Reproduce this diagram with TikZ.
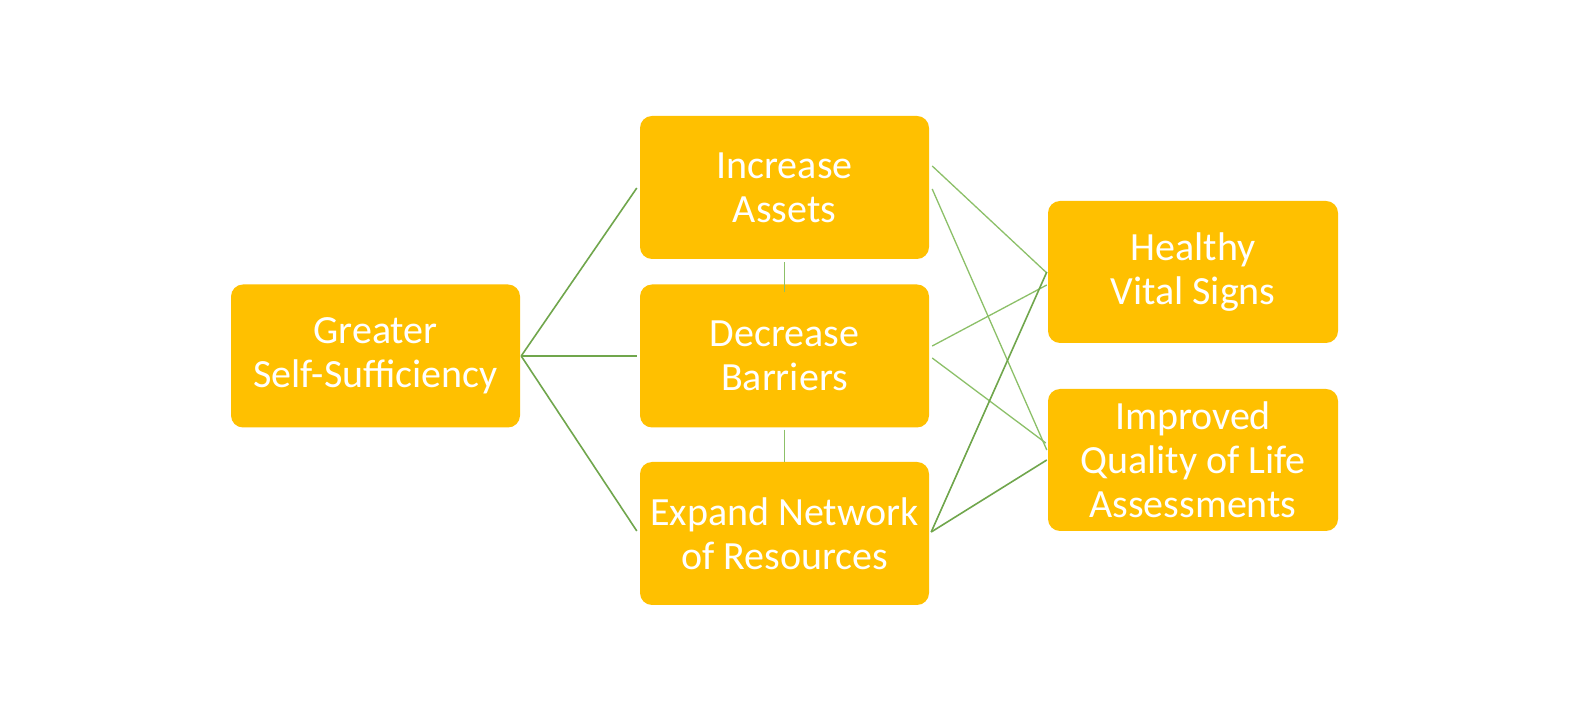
\documentclass[tikz,border=0pt]{standalone}
\usepackage{fontspec}
\setmainfont{Carlito}
\usetikzlibrary{positioning}
\definecolor{boxfill}{HTML}{FFC000}
\definecolor{lnk}{HTML}{70A64C}
\definecolor{lnkl}{HTML}{8CC068}
\begin{document}
\begin{tikzpicture}[x=1pt,y=1pt,
  box/.style={fill=boxfill,draw=none,rounded corners=12pt,minimum width=289pt,minimum height=143pt,
    inner sep=0pt,text=white,align=center,font=\fontsize{40}{44}\selectfont},
  link/.style={draw=lnk,line width=1.6pt},
  thin/.style={draw=lnkl,line width=1.3pt}]
\useasboundingbox[fill=white] (0,0) rectangle (1571,720);
\node[box] (gs) at (375.5,364) {Greater\\Self-Sufficiency};
\node[box] (inc) at (784.5,532.5) {Increase\\Assets};
\node[box] (dec) at (784.5,364) {Decrease\\Barriers};
\node[box] (exp) at (784.5,186.5) {Expand Network\\of Resources};
\node[box,minimum width=290pt,minimum height=142pt] (hea) at (1193,448) {Healthy\\Vital Signs};
\node[box,minimum width=290pt,minimum height=142pt] (imp) at (1193,260) {Improved\\Quality of Life\\Assessments};
% left fan
\draw[link] ([xshift=1pt]gs.east) -- ([shift={(-3,-0.5)}]inc.west);
\draw[link] ([xshift=1pt]gs.east) -- ([xshift=-3pt]dec.west);
\draw[link] ([xshift=1pt]gs.east) -- ([shift={(-3,2.5)}]exp.west);
% verticals
\draw[thin] ([yshift=-3pt]inc.south) -- ([yshift=-8pt]dec.north);
\draw[thin] ([yshift=-2pt]dec.south) -- (exp.north);
% right links
\draw[thin] ([shift={(3,21.5)}]inc.east) -- ([shift={(-1,-1)}]hea.west);
\draw[thin] ([shift={(3,-1.5)}]inc.east) -- ([shift={(-1,10)}]imp.west);
\draw[thin] ([shift={(3,10)}]dec.east) -- ([shift={(-1,-13)}]hea.west);
\draw[thin] ([shift={(3,-2)}]dec.east) -- ([shift={(-2,17)}]imp.west);
\draw[link] ([shift={(2,1.5)}]exp.east) -- ([shift={(-1,0)}]hea.west);
\draw[link] ([shift={(2,1.5)}]exp.east) -- ([shift={(-1,0)}]imp.west);
\end{tikzpicture}
\end{document}
